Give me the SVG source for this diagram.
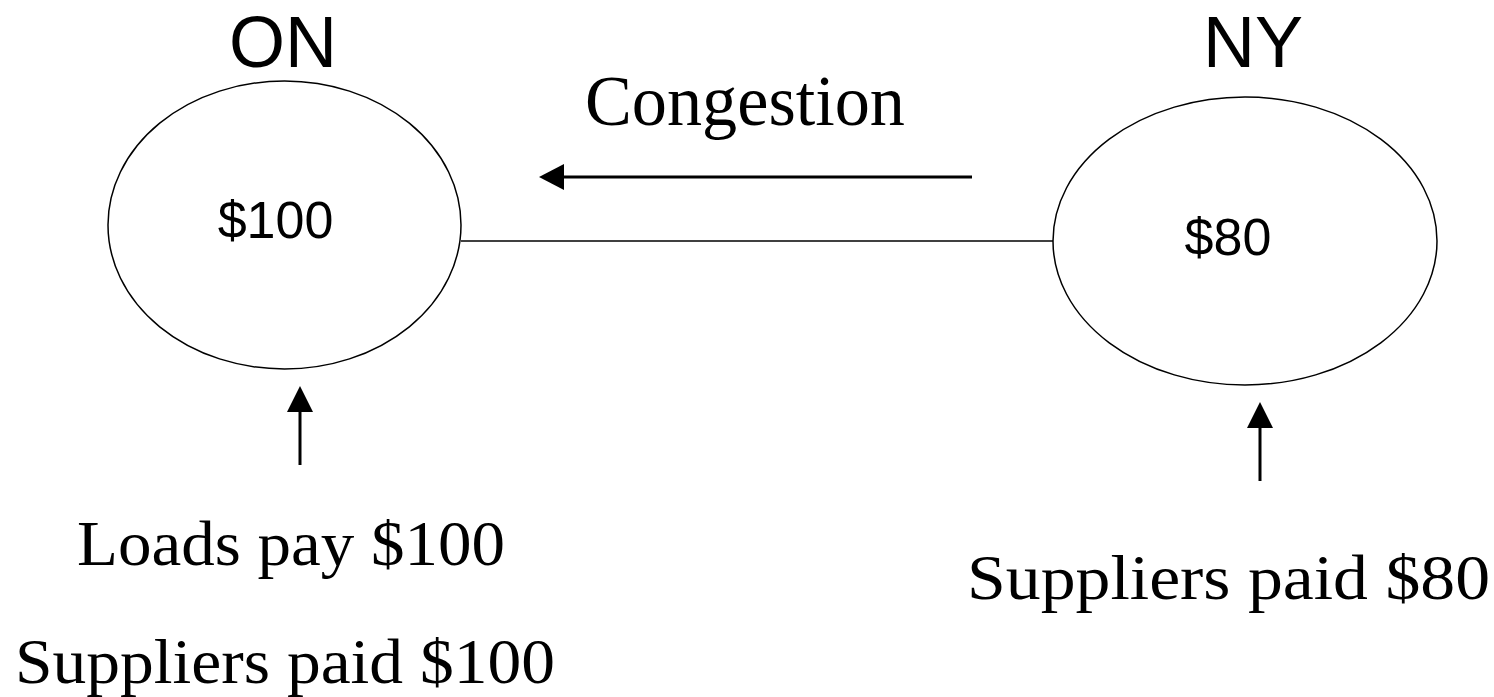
<svg xmlns="http://www.w3.org/2000/svg" width="1494" height="697" viewBox="0 0 1494 697">
<style>
.node{fill:#fff;stroke:#000;stroke-width:1.5}
.sans{font-family:"Liberation Sans",Arial,sans-serif;fill:#000}
.serif{font-family:"Liberation Serif","Times New Roman",serif;fill:#000}
.link{stroke:#000;stroke-width:1.5;fill:none}
.shaft{stroke:#000;stroke-width:3;fill:none}
.head{fill:#000}
</style>
<rect width="1494" height="697" fill="#fff"/>
<g id="connectors">
<line class="link" x1="461" y1="241" x2="1053" y2="241"/>
<line class="shaft" x1="972" y1="177" x2="562" y2="177"/>
<path class="head" d="M539,177 L564,164 L564,190 Z"/>
<line class="shaft" x1="300" y1="465" x2="300" y2="410"/>
<path class="head" d="M300,386 L287,412 L313,412 Z"/>
<line class="shaft" x1="1260" y1="481" x2="1260" y2="426"/>
<path class="head" d="M1260,402 L1247,428 L1273,428 Z"/>
</g>
<g id="node-ON">
<ellipse class="node" cx="284.5" cy="225" rx="176.5" ry="144"/>
<text class="sans" x="283" y="67" font-size="72" text-anchor="middle">ON</text>
<text class="sans" x="275.5" y="238" font-size="52" text-anchor="middle">$100</text>
</g>
<g id="node-NY">
<ellipse class="node" cx="1245" cy="241" rx="192" ry="144"/>
<text class="sans" x="1253" y="67" font-size="72" text-anchor="middle">NY</text>
<text class="sans" x="1228" y="255" font-size="52" text-anchor="middle">$80</text>
</g>
<g id="labels">
<text class="serif" x="745" y="125" font-size="72" text-anchor="middle" textLength="320" lengthAdjust="spacingAndGlyphs">Congestion</text>
<text class="serif" x="291" y="565" font-size="64" text-anchor="middle" textLength="428" lengthAdjust="spacingAndGlyphs">Loads pay $100</text>
<text class="serif" x="285" y="683" font-size="64" text-anchor="middle" textLength="540" lengthAdjust="spacingAndGlyphs">Suppliers paid $100</text>
<text class="serif" x="1228.5" y="599" font-size="64" text-anchor="middle" textLength="523" lengthAdjust="spacingAndGlyphs">Suppliers paid $80</text>
</g>
</svg>
